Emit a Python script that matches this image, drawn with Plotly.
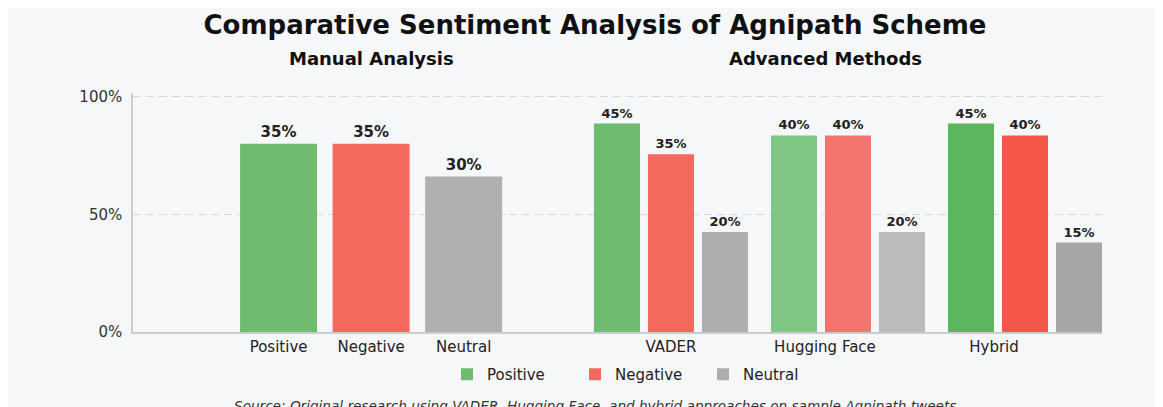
import plotly.graph_objects as go
from plotly.subplots import make_subplots

# ---------------- data ----------------
manual_categories = ["Positive", "Negative", "Neutral"]
manual_heights = [80, 80, 66]
manual_labels = ["35%", "35%", "30%"]
manual_colors = ["#6fbb6f", "#f4685d", "#b0b0b0"]

methods = ["VADER", "Hugging Face", "Hybrid"]
positive_heights = [88.5, 83.5, 88.5]
positive_labels = ["45%", "40%", "45%"]
negative_heights = [75.5, 83.5, 83.5]
negative_labels = ["35%", "40%", "40%"]
neutral_heights = [42.5, 42.5, 38]
neutral_labels = ["20%", "20%", "15%"]

positive_colors = ["#6fbb6f", "#80c684", "#5cb660"]
negative_colors = ["#f4685d", "#f4756e", "#f4574a"]
neutral_colors = ["#aeaeae", "#bbbbbb", "#a6a6a6"]

y_ticks = [0, 50, 100]
y_tick_labels = ["0%", "50%", "100%"]
method_tick_positions = [0, 0.87, 1.825]

FONT = "DejaVu Sans"

W, H = 1163, 407
OFF = 8                      # page body margin
Y_MAX = 101.5
L = 133 - OFF                # plot left (figure px)
PLOT_W = 969
R = W - L - PLOT_W
PLOT_BOTTOM = 332 - OFF
PX_PER_PCT = 2.35
PLOT_H = round(PX_PER_PCT * Y_MAX)
T = PLOT_BOTTOM - PLOT_H
B = H - PLOT_BOTTOM


def px(sx):
    return (sx - OFF - L) / PLOT_W


def py(sy):
    return (PLOT_BOTTOM - (sy - OFF)) / PLOT_H


fig = make_subplots(rows=1, cols=2, horizontal_spacing=0)

fig.add_trace(go.Bar(
    x=manual_categories, y=manual_heights, text=manual_labels,
    marker=dict(color=manual_colors, line=dict(width=0)),
    width=0.832, textposition="outside", cliponaxis=False,
    textfont=dict(family=FONT, size=15, color="#222", weight="bold"),
    showlegend=False, name="Manual",
), row=1, col=1)

for name, ys, labels, cols in [
    ("Positive", positive_heights, positive_labels, positive_colors),
    ("Negative", negative_heights, negative_labels, negative_colors),
    ("Neutral", neutral_heights, neutral_labels, neutral_colors),
]:
    fig.add_trace(go.Bar(
        x=methods, y=ys, text=labels, name=name,
        marker=dict(color=cols, line=dict(width=0)),
        textposition="outside", cliponaxis=False,
        textfont=dict(family=FONT, size=13, color="#222", weight="bold"),
        showlegend=True,
    ), row=1, col=2)

fig.update_layout(
    width=W, height=H,
    margin=dict(l=L, r=R, t=T, b=B, autoexpand=False),
    paper_bgcolor="#f6f7f9",
    plot_bgcolor="#f6f7f9",
    barmode="group",
    bargap=0.085,
    bargroupgap=0.148,
    font=dict(family=FONT, color="#222"),
    title=dict(
        text="<b>Comparative Sentiment Analysis of Agnipath Scheme</b>",
        x=(595 - OFF) / W, xanchor="center", y=1 - (25 - OFF) / H, yanchor="middle",
        font=dict(family=FONT, size=26, color="#111"),
    ),
    legend=dict(
        orientation="h", x=px(639), xanchor="center",
        y=py(358), yanchor="top",
        font=dict(family=FONT, size=15, color="#222"),
        bgcolor="rgba(0,0,0,0)", itemwidth=30, traceorder="normal",
        entrywidth=83, entrywidthmode="pixels",
    ),
    annotations=[
        dict(text="<b>Manual Analysis</b>", x=px(371), y=py(59),
             xref="paper", yref="paper", showarrow=False, xanchor="center", yanchor="middle",
             font=dict(family=FONT, size=18, color="#111")),
        dict(text="<b>Advanced Methods</b>", x=px(825), y=py(59),
             xref="paper", yref="paper", showarrow=False, xanchor="center", yanchor="middle",
             font=dict(family=FONT, size=18, color="#111")),
        dict(text="<i>Source: Original research using VADER, Hugging Face, and hybrid approaches on sample Agnipath tweets</i>",
             x=px(595), y=py(396), xref="paper", yref="paper",
             showarrow=False, xanchor="center", yanchor="top",
             font=dict(family=FONT, size=13.6, color="#333")),
    ],
)

split = px(509)
fig.update_xaxes(
    domain=[0, split], range=[-1.573, 2.49], row=1, col=1,
    showline=True, linecolor="#cccccc", linewidth=1.5, showgrid=False,
    ticks="", tickfont=dict(family=FONT, size=15, color="#222"),
)
fig.update_xaxes(
    domain=[split, 1], range=[-0.915, 2.435], row=1, col=2,
    showline=True, linecolor="#cccccc", linewidth=1.5, showgrid=False,
    ticks="", tickmode="array", tickvals=method_tick_positions, ticktext=methods,
    tickfont=dict(family=FONT, size=15, color="#222"),
)
fig.update_yaxes(
    range=[0, Y_MAX], row=1, col=1, tickmode="array", tickvals=y_ticks,
    ticktext=y_tick_labels, showgrid=True, gridcolor="#d8d8d8", griddash="8px,5px",
    zeroline=False, showline=True, linecolor="#cccccc", linewidth=1.5,
    tickfont=dict(family=FONT, size=15, color="#333"), ticklabelstandoff=6,
)
fig.update_yaxes(
    range=[0, Y_MAX], row=1, col=2, tickmode="array", tickvals=y_ticks,
    showticklabels=False, showgrid=True, gridcolor="#d8d8d8", griddash="8px,5px",
    zeroline=False, showline=False,
)

fig.write_html("out.html")
